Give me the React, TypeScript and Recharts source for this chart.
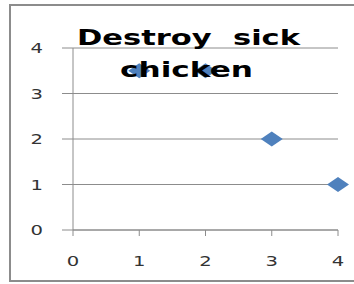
import React from 'react';
import { ScatterChart, Scatter, XAxis, YAxis, CartesianGrid } from 'recharts';

const xValues = [1, 2, 3, 4];
const yValues = [3.5, 3.5, 2, 1];
const xTicks = [0, 1, 2, 3, 4];
const yTicks = [0, 1, 2, 3, 4];
const titleLines = ['Destroy  sick', 'chicken'];

const data = xValues.map((x, i) => ({ x, y: yValues[i] }));

const Diamond = (props: any) => {
  const { cx, cy } = props;
  if (cx == null || cy == null) return null;
  const w = 11;
  const h = 7.5;
  return (
    <polygon
      points={`${cx - w},${cy} ${cx},${cy - h} ${cx + w},${cy} ${cx},${cy + h}`}
      fill="#4f81bd"
    />
  );
};

const YTick = (props: any) => {
  const { y, payload } = props;
  return (
    <g transform={`translate(43, ${y}) scale(1.4, 1)`}>
      <text x={0} y={0} dy="0.36em" textAnchor="end" fontFamily="DejaVu Sans" fontSize={14} fill="#333333">
        {payload.value}
      </text>
    </g>
  );
};

const XTick = (props: any) => {
  const { x, payload } = props;
  return (
    <g transform={`translate(${x}, 261) scale(1.4, 1)`}>
      <text x={0} y={0} dy="0.36em" textAnchor="middle" fontFamily="DejaVu Sans" fontSize={14} fill="#333333">
        {payload.value}
      </text>
    </g>
  );
};

export default function App() {
  return (
    <div style={{ position: 'absolute', left: 0, top: 0, width: 354, height: 284, background: '#fff' }}>
      <div
        style={{
          position: 'absolute',
          left: 9,
          top: 4,
          width: 360,
          height: 278,
          border: '2px solid #8c8c8c',
          boxSizing: 'border-box',
        }}
      />
      <div style={{ position: 'absolute', left: 0, top: 0 }}>
        <ScatterChart width={354} height={284} margin={{ top: 48, right: 16, left: 0, bottom: 0 }}>
          <CartesianGrid horizontal={true} vertical={false} stroke="#8c8c8c" strokeWidth={1} />
          <XAxis
            type="number"
            dataKey="x"
            domain={[0, 4]}
            ticks={xTicks}
            height={54}
            tickSize={6}
            tickMargin={16}
            axisLine={{ stroke: '#8c8c8c' }}
            tickLine={{ stroke: '#8c8c8c' }}
            tick={<XTick />}
            interval={0}
          />
          <YAxis
            type="number"
            dataKey="y"
            domain={[0, 4]}
            ticks={yTicks}
            width={73}
            tickSize={11}
            tickMargin={21}
            axisLine={{ stroke: '#8c8c8c' }}
            tickLine={{ stroke: '#8c8c8c' }}
            tick={<YTick />}
            interval={0}
          />
          <Scatter data={data} shape={<Diamond />} isAnimationActive={false} />
        </ScatterChart>
      </div>
      <svg width={354} height={284} style={{ position: 'absolute', left: 0, top: 0, pointerEvents: 'none' }}>
        <text
          x={188.5}
          y={45}
          textAnchor="middle"
          fontFamily="DejaVu Sans"
          fontWeight="bold"
          fontSize={22}
          fill="#000"
          textLength={223}
          lengthAdjust="spacingAndGlyphs"
          style={{ whiteSpace: 'pre' }}
        >
          {titleLines[0]}
        </text>
        <text
          x={186.5}
          y={77}
          textAnchor="middle"
          fontFamily="DejaVu Sans"
          fontWeight="bold"
          fontSize={22}
          fill="#000"
          textLength={133}
          lengthAdjust="spacingAndGlyphs"
        >
          {titleLines[1]}
        </text>
      </svg>
    </div>
  );
}
